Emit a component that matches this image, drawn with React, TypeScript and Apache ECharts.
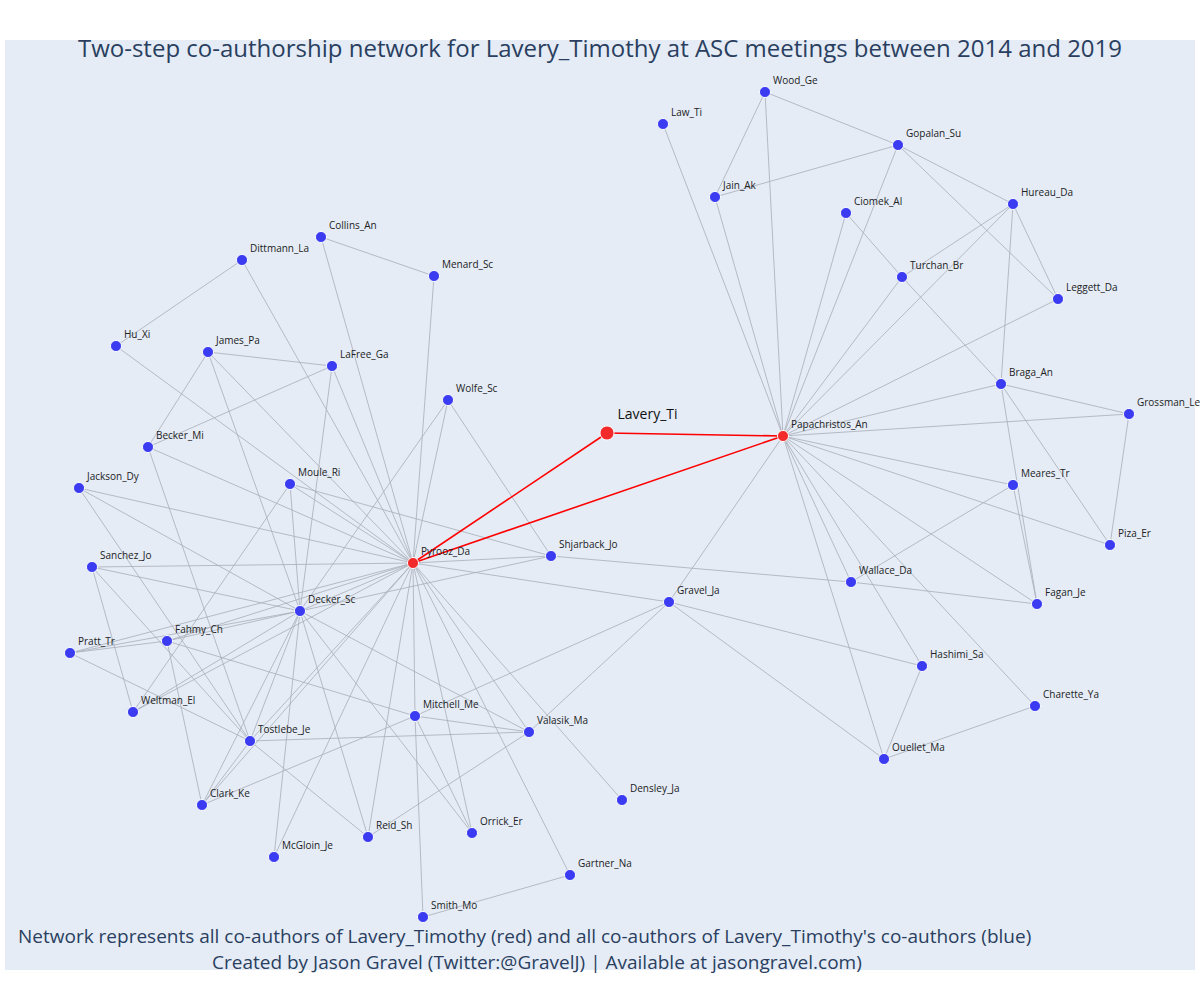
import { useEffect, useRef } from 'react';
import * as echarts from 'echarts';

const names = [
  'Lavery_Ti', 'Pyrooz_Da', 'Papachristos_An', 'Wood_Ge', 'Law_Ti', 'Gopalan_Su', 'Jain_Ak', 'Ciomek_Al',
  'Hureau_Da', 'Turchan_Br', 'Leggett_Da', 'Braga_An', 'Grossman_Le', 'Meares_Tr', 'Piza_Er', 'Wallace_Da',
  'Fagan_Je', 'Gravel_Ja', 'Hashimi_Sa', 'Charette_Ya', 'Ouellet_Ma', 'Collins_An', 'Dittmann_La', 'Menard_Sc',
  'Hu_Xi', 'James_Pa', 'LaFree_Ga', 'Wolfe_Sc', 'Becker_Mi', 'Moule_Ri', 'Jackson_Dy', 'Sanchez_Jo',
  'Shjarback_Jo', 'Decker_Sc', 'Fahmy_Ch', 'Pratt_Tr', 'Weltman_El', 'Mitchell_Me', 'Valasik_Ma', 'Tostlebe_Je',
  'Densley_Ja', 'Clark_Ke', 'Reid_Sh', 'Orrick_Er', 'McGloin_Je', 'Gartner_Na', 'Smith_Mo',
];
const posX = [
  607, 413, 783, 765, 663, 898, 715, 846, 1013, 902, 1058, 1001, 1129, 1013, 1110, 851,
  1037, 669, 922, 1035, 884, 321, 242, 434, 116, 208, 332, 448, 148, 290, 79, 92,
  551, 300, 167, 70, 133, 415, 529, 250, 622, 202, 368, 472, 274, 570, 423,
];
const posY = [
  433, 563, 436, 92, 124, 145, 197, 213, 204, 277, 299, 384, 414, 485, 545, 582,
  604, 602, 666, 706, 759, 237, 260, 276, 346, 352, 366, 400, 447, 484, 488, 567,
  556, 611, 641, 653, 712, 716, 732, 741, 800, 805, 837, 833, 857, 875, 917,
];
const redNodes = ['Lavery_Ti', 'Pyrooz_Da', 'Papachristos_An'];
const redLinks = [['Lavery_Ti', 'Pyrooz_Da'], ['Lavery_Ti', 'Papachristos_An'], ['Pyrooz_Da', 'Papachristos_An']];
const papaLinks = [
  'Law_Ti', 'Jain_Ak', 'Wood_Ge', 'Gopalan_Su', 'Ciomek_Al', 'Turchan_Br', 'Hureau_Da', 'Leggett_Da', 'Braga_An',
  'Grossman_Le', 'Meares_Tr', 'Piza_Er', 'Fagan_Je', 'Wallace_Da', 'Hashimi_Sa', 'Charette_Ya', 'Ouellet_Ma', 'Gravel_Ja',
];
const pyroozLinks = [
  'Collins_An', 'Dittmann_La', 'Menard_Sc', 'LaFree_Ga', 'James_Pa', 'Hu_Xi', 'Wolfe_Sc', 'Becker_Mi', 'Moule_Ri',
  'Jackson_Dy', 'Sanchez_Jo', 'Shjarback_Jo', 'Decker_Sc', 'Fahmy_Ch', 'Pratt_Tr', 'Weltman_El', 'Mitchell_Me',
  'Valasik_Ma', 'Tostlebe_Je', 'Densley_Ja', 'Clark_Ke', 'Reid_Sh', 'Orrick_Er', 'McGloin_Je', 'Gartner_Na', 'Gravel_Ja',
];
const otherLinks = [
  ['Wood_Ge', 'Jain_Ak'], ['Wood_Ge', 'Gopalan_Su'], ['Jain_Ak', 'Gopalan_Su'], ['Gopalan_Su', 'Hureau_Da'],
  ['Gopalan_Su', 'Leggett_Da'], ['Ciomek_Al', 'Turchan_Br'], ['Turchan_Br', 'Hureau_Da'], ['Turchan_Br', 'Braga_An'],
  ['Hureau_Da', 'Leggett_Da'], ['Hureau_Da', 'Braga_An'], ['Braga_An', 'Grossman_Le'], ['Braga_An', 'Fagan_Je'],
  ['Braga_An', 'Piza_Er'], ['Meares_Tr', 'Fagan_Je'], ['Grossman_Le', 'Piza_Er'], ['Meares_Tr', 'Wallace_Da'],
  ['Wallace_Da', 'Fagan_Je'], ['Shjarback_Jo', 'Wallace_Da'], ['Gravel_Ja', 'Hashimi_Sa'], ['Gravel_Ja', 'Ouellet_Ma'],
  ['Hashimi_Sa', 'Ouellet_Ma'], ['Charette_Ya', 'Ouellet_Ma'], ['Gravel_Ja', 'Mitchell_Me'], ['Gravel_Ja', 'Valasik_Ma'],
  ['Collins_An', 'Menard_Sc'], ['Dittmann_La', 'Hu_Xi'], ['James_Pa', 'LaFree_Ga'], ['James_Pa', 'Becker_Mi'],
  ['LaFree_Ga', 'Becker_Mi'], ['James_Pa', 'Decker_Sc'], ['LaFree_Ga', 'Decker_Sc'], ['Becker_Mi', 'Tostlebe_Je'],
  ['Wolfe_Sc', 'Shjarback_Jo'], ['Wolfe_Sc', 'Decker_Sc'], ['Moule_Ri', 'Shjarback_Jo'], ['Moule_Ri', 'Decker_Sc'],
  ['Moule_Ri', 'Weltman_El'], ['Jackson_Dy', 'Decker_Sc'], ['Jackson_Dy', 'Tostlebe_Je'], ['Sanchez_Jo', 'Decker_Sc'],
  ['Sanchez_Jo', 'Weltman_El'], ['Sanchez_Jo', 'Tostlebe_Je'], ['Decker_Sc', 'Shjarback_Jo'], ['Decker_Sc', 'Fahmy_Ch'],
  ['Decker_Sc', 'Pratt_Tr'], ['Decker_Sc', 'Weltman_El'], ['Decker_Sc', 'Clark_Ke'], ['Decker_Sc', 'Tostlebe_Je'],
  ['Decker_Sc', 'McGloin_Je'], ['Decker_Sc', 'Reid_Sh'], ['Decker_Sc', 'Orrick_Er'], ['Decker_Sc', 'Valasik_Ma'],
  ['Fahmy_Ch', 'Pratt_Tr'], ['Fahmy_Ch', 'Clark_Ke'], ['Fahmy_Ch', 'Mitchell_Me'], ['Pratt_Tr', 'Tostlebe_Je'],
  ['Tostlebe_Je', 'Valasik_Ma'], ['Tostlebe_Je', 'Reid_Sh'], ['Tostlebe_Je', 'Clark_Ke'], ['Mitchell_Me', 'Valasik_Ma'],
  ['Mitchell_Me', 'Clark_Ke'], ['Mitchell_Me', 'Orrick_Er'], ['Mitchell_Me', 'Smith_Mo'], ['Valasik_Ma', 'Reid_Sh'],
  ['Gartner_Na', 'Smith_Mo'],
];

export default function App() {
  const chartRef = useRef<HTMLDivElement>(null);

  useEffect(() => {
    if (!chartRef.current) return;
    const chart = echarts.init(chartRef.current, undefined, { renderer: 'svg' });

    const nodes = names.map((name, i) => {
      const red = redNodes.includes(name);
      const big = name === 'Lavery_Ti';
      return {
        name,
        value: [posX[i], posY[i]],
        symbolSize: big ? 14 : 11,
        itemStyle: { color: red ? '#f22a2a' : '#3b3bf2', borderColor: '#fff', borderWidth: 1 },
        label: {
          show: true,
          position: 'right',
          offset: big ? [-2, -20] : [-3, -12],
          fontSize: big ? 14 : 10,
          color: big ? '#111' : '#222',
        },
      };
    });
    const grey = { color: '#a8adb8', width: 0.8, opacity: 1 };
    const links = [
      ...papaLinks.map((t) => ({ source: 'Papachristos_An', target: t, lineStyle: grey })),
      ...pyroozLinks.map((t) => ({ source: 'Pyrooz_Da', target: t, lineStyle: grey })),
      ...otherLinks.map(([s, t]) => ({ source: s, target: t, lineStyle: grey })),
      ...redLinks.map(([s, t]) => ({ source: s, target: t, lineStyle: { color: '#ff0000', width: 1.6, opacity: 1 } })),
    ];

    chart.setOption({
      animation: false,
      title: [
        {
          text: 'Two-step co-authorship network for Lavery_Timothy at ASC meetings between 2014 and 2019',
          left: 'center',
          top: 30,
          textStyle: { fontSize: 24, fontWeight: 'normal', color: '#2a3f5f', fontFamily: 'Open Sans' },
        },
        {
          text: "Network represents all co-authors of Lavery_Timothy (red) and all co-authors of Lavery_Timothy's co-authors (blue)",
          left: 13,
          top: 921,
          textStyle: { fontSize: 19, fontWeight: 'normal', color: '#2a3f5f', fontFamily: 'Open Sans' },
        },
        {
          text: 'Created by Jason Gravel (Twitter:@GravelJ) | Available at jasongravel.com)',
          left: 207,
          top: 947,
          textStyle: { fontSize: 19, fontWeight: 'normal', color: '#2a3f5f', fontFamily: 'Open Sans' },
        },
      ],
      grid: { left: 5, top: 40, width: 1190, height: 930, show: true, backgroundColor: '#e5ecf6', borderWidth: 0 },
      xAxis: { type: 'value', min: 5, max: 1195, show: false },
      yAxis: { type: 'value', min: 40, max: 970, inverse: true, show: false },
      series: [
        {
          type: 'graph',
          coordinateSystem: 'cartesian2d',
          layout: 'none',
          data: nodes,
          links,
          label: { fontFamily: 'Open Sans' },
          emphasis: { disabled: true },
          z: 2,
        },
      ],
    });

    return () => chart.dispose();
  }, []);

  return (
    <div
      ref={chartRef}
      style={{ position: 'absolute', left: 0, top: 0, width: 1200, height: 1000, background: '#fff' }}
    />
  );
}
